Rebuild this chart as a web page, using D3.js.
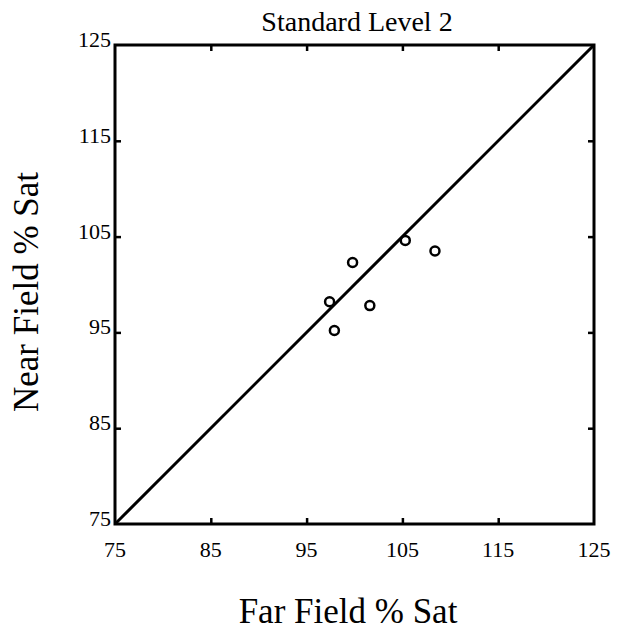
<!DOCTYPE html>
<html>
<head>
	<meta charset="UTF-8">
	<title>Standard Level 2</title>
	<style>
		body { margin: 0; background: white; }
		svg text { font-family: "Liberation Serif", "Times New Roman", serif; fill: black; }
	</style>
</head>
<body>
<div id="chart"></div>
<script src="https://d3js.org/d3.v7.min.js"></script>
<script>
	// data
	let farField = [105.3, 108.4, 99.8, 97.4, 101.6, 97.9];
	let nearField = [104.6, 103.5, 102.3, 98.2, 97.8, 95.2];
	let tickValues = [75, 85, 95, 105, 115, 125];
	let axisRange = [75, 125];

	let width = 619, height = 630;
	let margin = {top: 45, left: 115};
	let plotSize = 479;

	let svg = d3.select("#chart").append("svg")
		.attr("width", width)
		.attr("height", height);

	let x = d3.scaleLinear().domain(axisRange).range([margin.left, margin.left + plotSize]);
	let y = d3.scaleLinear().domain(axisRange).range([margin.top + plotSize, margin.top]);

	// axes, ticks pointing inwards on every side
	let inner = tickValues.slice(1, -1);
	svg.append("g")
		.attr("transform", "translate(0," + y(75) + ")")
		.call(d3.axisTop(x).tickValues(inner).tickSize(6).tickFormat(""));
	svg.append("g")
		.attr("transform", "translate(0," + y(125) + ")")
		.call(d3.axisBottom(x).tickValues(inner).tickSize(6).tickFormat(""));
	svg.append("g")
		.attr("transform", "translate(" + x(75) + ",0)")
		.call(d3.axisRight(y).tickValues(inner).tickSize(6).tickFormat(""));
	svg.append("g")
		.attr("transform", "translate(" + x(125) + ",0)")
		.call(d3.axisLeft(y).tickValues(inner).tickSize(6).tickFormat(""));
	svg.selectAll(".domain").remove();
	svg.selectAll(".tick line").attr("stroke", "black").attr("stroke-width", 2.5);

	// tick labels
	svg.append("g").selectAll("text")
		.data(tickValues)
		.join("text")
		.attr("x", d => x(d))
		.attr("y", y(75) + 33)
		.attr("text-anchor", "middle")
		.style("font-size", "22px")
		.text(d => d);
	svg.append("g").selectAll("text")
		.data(tickValues)
		.join("text")
		.attr("x", x(75) - 4)
		.attr("y", d => y(d) + 2)
		.attr("text-anchor", "end")
		.style("font-size", "22px")
		.text(d => d);

	// frame
	svg.append("rect")
		.attr("x", x(75))
		.attr("y", y(125))
		.attr("width", x(125) - x(75))
		.attr("height", y(75) - y(125))
		.attr("fill", "none")
		.attr("stroke", "black")
		.attr("stroke-width", 3);

	// 1:1 line
	svg.append("line")
		.attr("x1", x(75)).attr("y1", y(75))
		.attr("x2", x(125)).attr("y2", y(125))
		.attr("stroke", "black")
		.attr("stroke-width", 3);

	// points
	svg.append("g").selectAll("circle")
		.data(farField)
		.join("circle")
		.attr("cx", d => x(d))
		.attr("cy", (d, i) => y(nearField[i]))
		.attr("r", 4.5)
		.attr("fill", "none")
		.attr("stroke", "black")
		.attr("stroke-width", 2.5);

	// titles
	svg.append("text")
		.attr("x", 357)
		.attr("y", 31)
		.attr("text-anchor", "middle")
		.style("font-size", "28px")
		.text("Standard Level 2");

	svg.append("text")
		.attr("x", 348)
		.attr("y", 623)
		.attr("text-anchor", "middle")
		.style("font-size", "35px")
		.text("Far Field % Sat");

	svg.append("text")
		.attr("transform", "translate(38,292) rotate(-90)")
		.attr("text-anchor", "middle")
		.style("font-size", "35px")
		.text("Near Field % Sat");
</script>
</body>
</html>
